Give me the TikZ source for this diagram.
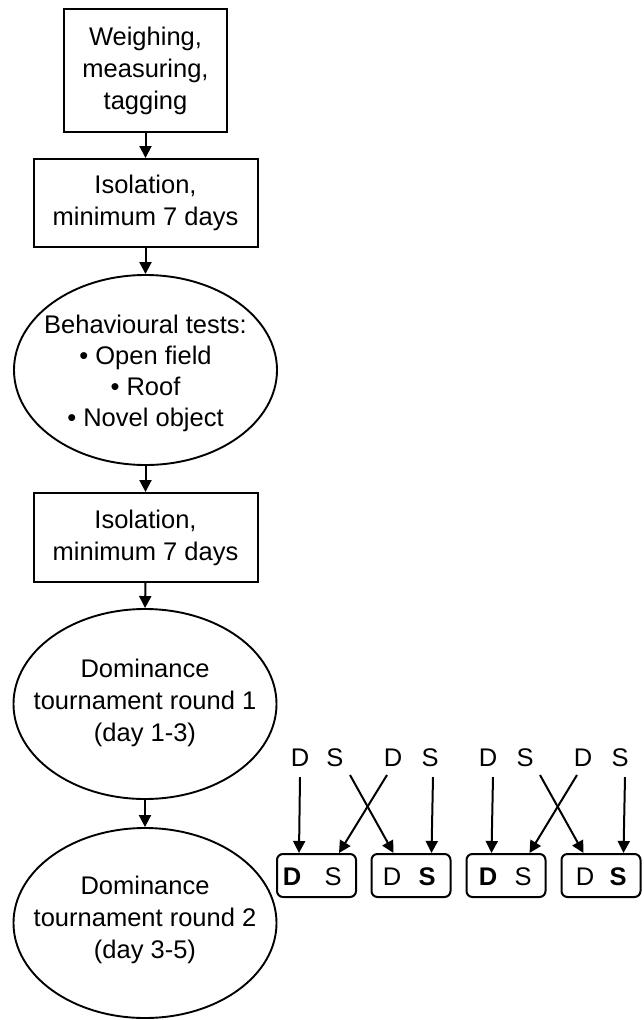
\documentclass[tikz,border=0pt]{standalone}
\usepackage{fontspec}
\setmainfont{Liberation Sans}
\usetikzlibrary{shapes.geometric,arrows.meta,calc}
\begin{document}
\begin{tikzpicture}[x=1pt,y=-1pt,
  every node/.style={font=\fontsize{25.5}{32}\selectfont},
  box/.style={draw,line width=2pt,align=center,inner sep=0pt},
  ell/.style={draw,ellipse,line width=1.9pt,minimum width=263pt,minimum height=190pt,inner sep=0pt},
  arr/.style={line width=2pt,-{Triangle[length=12pt,width=12pt]}},
  sbox/.style={draw,line width=2pt,rounded corners=6pt,minimum width=79pt,minimum height=43pt,inner sep=0pt},
  lbl/.style={inner sep=0pt}]
\useasboundingbox (0,0) rectangle (643,1020);
% main flow
\node[box,minimum width=163pt,minimum height=123pt] (n1) at (145.5,70.5) {Weighing,\\measuring,\\tagging};
\node[box,minimum width=224pt,minimum height=88pt] (n2) at (145.5,203) {Isolation,\\minimum 7 days};
\node[ell] (e1) at (145.5,370) {};
\node[align=center,font=\fontsize{25.5}{31}\selectfont] (e1t) at (145.5,373) {Behavioural tests:\\• Open field\\• Roof\\• Novel object};
\node[box,minimum width=224pt,minimum height=89pt] (n3) at (145.5,537.5) {Isolation,\\minimum 7 days};
\node[ell] (e2) at (145,704) {};
\node[align=center] (e2t) at (145,703) {Dominance\\tournament round 1\\(day 1-3)};
\node[ell] (e3) at (145,923) {};
\node[align=center] (e3t) at (145,920) {Dominance\\tournament round 2\\(day 3-5)};
\draw[arr] (n1.south) -- (n2.north);
\draw[arr] (n2.south) -- (e1.north);
\draw[arr] (e1.south) -- (n3.north);
\draw[arr] (n3.south) -- (e2.north);
\draw[arr] (e2.south) -- (e3.north);
% top letters
\node[lbl] (t1) at (300,758) {D};
\node[lbl] (t2) at (335,758) {S};
\node[lbl] (t3) at (393,758) {D};
\node[lbl] (t4) at (430,758) {S};
\node[lbl] (t5) at (488,758) {D};
\node[lbl] (t6) at (525,758) {S};
\node[lbl] (t7) at (583,758) {D};
\node[lbl] (t8) at (620,758) {S};
% small boxes
\node[sbox] (b1) at (316.5,875.5) {};
\node[sbox] (b2) at (411,875.5) {};
\node[sbox] (b3) at (506,875.5) {};
\node[sbox] (b4) at (601,875.5) {};
\node[lbl] (b1d) at (292,877) {\bfseries D};
\node[lbl] (b1s) at (333,877) {S};
\node[lbl] (b2d) at (392,877) {D};
\node[lbl] (b2s) at (427,877) {\bfseries S};
\node[lbl] (b3d) at (488,877) {\bfseries D};
\node[lbl] (b3s) at (523,877) {S};
\node[lbl] (b4d) at (585,877) {D};
\node[lbl] (b4s) at (618,877) {\bfseries S};
% arrows
\draw[arr] ($(t1)+(0,19)$) -- ($(b1.north west)+(23,0)$);
\draw[arr] ($(t2)+(15,17)$) -- ($(b2.north west)+(23,0)$);
\draw[arr] ($(t3)+(-6,17)$) -- ($(b1.north east)+(-18,0)$);
\draw[arr] ($(t4)+(3,19)$) -- ($(b2.north west)+(61,0)$);
\draw[arr] ($(t5)+(5,19)$) -- ($(b3.north west)+(26,0)$);
\draw[arr] ($(t6)+(15,17)$) -- ($(b4.north west)+(23,0)$);
\draw[arr] ($(t7)+(-6,17)$) -- ($(b3.north east)+(-17,0)$);
\draw[arr] ($(t8)+(5,19)$) -- ($(b4.north west)+(63,0)$);
\end{tikzpicture}
\end{document}
